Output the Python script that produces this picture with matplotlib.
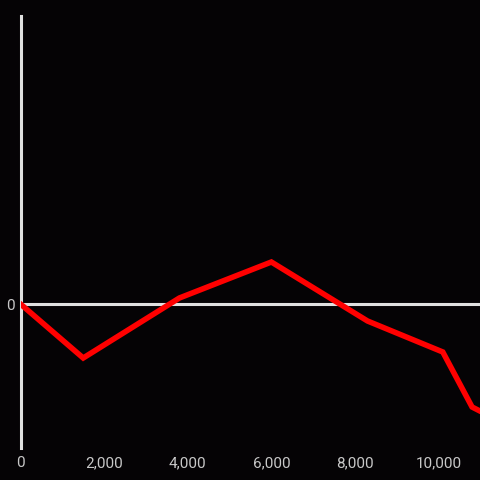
import matplotlib
matplotlib.use("Agg")
import matplotlib.pyplot as plt
from matplotlib.ticker import FuncFormatter

x_vals = [0, 1500, 3800, 6000, 8300, 10100, 10800, 11500]
y_vals = [0, -54, 6, 42, -17, -48, -103, -118]
x_ticks = [0, 2000, 4000, 6000, 8000, 10000]
y_ticks = [0]

bg = "#050305"
axis_col = "#e0e0e0"
text_col = "#c8c8c8"

plt.rcParams['font.family'] = ['Roboto', 'DejaVu Sans']
fig = plt.figure(figsize=(4.8, 4.8), dpi=100, facecolor=bg)
ax = fig.add_axes([20.5/480, 1 - 448/480, 1 - 20.5/480, (448 - 16)/480])
ax.set_facecolor(bg)

ax.plot(x_vals, y_vals, color="#ff0000", lw=4, solid_joinstyle="miter", zorder=3)
ax.axhline(0, color=axis_col, lw=2.2, zorder=2)

ax.set_xlim(0, 10990)
ax.set_ylim(-144, 288)

for s in ["top", "right", "bottom"]:
    ax.spines[s].set_visible(False)
ax.spines["left"].set_color(axis_col)
ax.spines["left"].set_linewidth(2.2)

ax.set_xticks(x_ticks)
ax.set_yticks(y_ticks)
ax.xaxis.set_major_formatter(FuncFormatter(lambda v, p: f"{int(v):,}"))
ax.tick_params(axis="both", length=0, colors=text_col, labelsize=11)
ax.tick_params(axis="x", pad=6)
ax.tick_params(axis="y", pad=4)

fig.savefig("out.png", dpi=100, facecolor=bg)
